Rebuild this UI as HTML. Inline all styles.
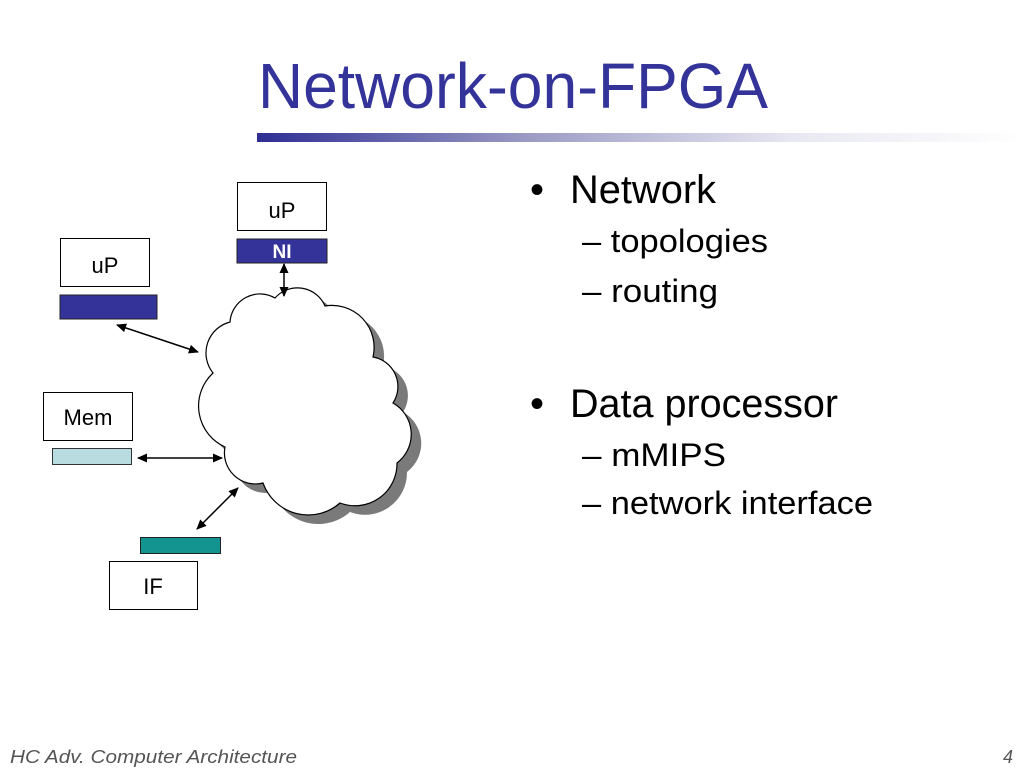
<!DOCTYPE html>
<html><head><meta charset="utf-8"><style>
html,body{margin:0;padding:0;background:#fff;}
svg{display:block;font-family:"Liberation Sans",Arial,sans-serif;}
</style></head><body>
<svg width="1024" height="768" viewBox="0 0 1024 768" xmlns="http://www.w3.org/2000/svg">
<defs>
<linearGradient id="g" x1="0" x2="1" y1="0" y2="0">
<stop offset="0" stop-color="#2e2e94"/>
<stop offset="0.35" stop-color="#9a9ac4"/>
<stop offset="0.7" stop-color="#e8e8f2"/>
<stop offset="1" stop-color="#ffffff"/>
</linearGradient>
<marker id="a" viewBox="0 0 10 10" refX="9" refY="5" markerWidth="11" markerHeight="10" orient="auto-start-reverse" markerUnits="userSpaceOnUse">
<path d="M0,0.5 L10,5 L0,9.5 z" fill="#000"/>
</marker>
<path id="cloud" d="M230,322 A30,30 0 0 1 275,298 A30,30 0 0 1 325,306 A42,42 0 0 1 373,357 A30,30 0 0 1 393,403 A36,36 0 0 1 397,463 A42,42 0 0 1 340,503 A48,48 0 0 1 263,483 A31,31 0 0 1 225,447 A45,45 0 0 1 213,373 A32,32 0 0 1 230,322 Z"/>
</defs>
<text x="258" y="108" font-size="64" fill="#333399" textLength="510" lengthAdjust="spacingAndGlyphs">Network-on-FPGA</text>
<rect x="257" y="133" width="767" height="9" fill="url(#g)"/>

<g font-size="40" fill="#000">
<text x="530" y="203">•</text><text x="570" y="203" textLength="146" lengthAdjust="spacingAndGlyphs">Network</text>
<text x="530" y="417">•</text><text x="570" y="417" textLength="268" lengthAdjust="spacingAndGlyphs">Data processor</text>
</g>
<g font-size="32" fill="#000">
<text x="582" y="252" textLength="186" lengthAdjust="spacingAndGlyphs">– topologies</text>
<text x="582" y="302" textLength="136" lengthAdjust="spacingAndGlyphs">– routing</text>
<text x="582" y="466" textLength="144" lengthAdjust="spacingAndGlyphs">– mMIPS</text>
<text x="582" y="514" textLength="291" lengthAdjust="spacingAndGlyphs">– network interface</text>
</g>

<use href="#cloud" transform="translate(10,9)" fill="#7a7a7a"/>
<use href="#cloud" fill="#fff" stroke="#000" stroke-width="1.2"/>

<rect x="237.5" y="182.5" width="89" height="48" fill="#fff" stroke="#000"/>
<text x="282" y="218" font-size="22" text-anchor="middle">uP</text>
<rect x="237" y="239" width="90" height="24" fill="#333399" stroke="#222"/>
<text x="282" y="258" font-size="19" font-weight="bold" fill="#fff" text-anchor="middle">NI</text>

<rect x="60.5" y="238.5" width="89" height="48" fill="#fff" stroke="#000"/>
<text x="105" y="273" font-size="22" text-anchor="middle">uP</text>
<rect x="60" y="295" width="97" height="24" fill="#333399" stroke="#222"/>

<rect x="43.5" y="392.5" width="89" height="48" fill="#fff" stroke="#000"/>
<text x="88" y="425" font-size="22" text-anchor="middle">Mem</text>
<rect x="52.5" y="448.5" width="79" height="16" fill="#b9dce0" stroke="#333"/>

<rect x="140.5" y="537.5" width="80" height="16" fill="#149491" stroke="#222"/>
<rect x="109.5" y="561.5" width="88" height="48" fill="#fff" stroke="#000"/>
<text x="153" y="594" font-size="22" text-anchor="middle">IF</text>

<g stroke="#000" stroke-width="1.5" marker-start="url(#a)" marker-end="url(#a)">
<line x1="284" y1="264" x2="284" y2="296"/>
<line x1="117" y1="325" x2="198" y2="352"/>
<line x1="138" y1="458" x2="222" y2="458"/>
<line x1="197" y1="529" x2="238" y2="488"/>
</g>

<g font-size="18" font-style="italic" fill="#555">
<text x="10" y="763" textLength="287" lengthAdjust="spacingAndGlyphs">HC   Adv. Computer Architecture</text>
<text x="1003" y="763">4</text>
</g>
</svg>
</body></html>
